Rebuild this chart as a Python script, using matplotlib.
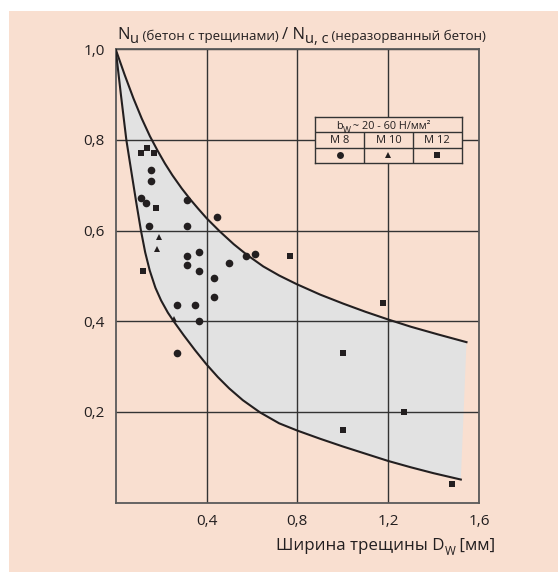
import numpy as np
import matplotlib
matplotlib.use("Agg")
import matplotlib.pyplot as plt
from matplotlib.patches import Rectangle

plt.rcParams['font.family'] = ['Open Sans', 'DejaVu Sans']

# envelope curves
upper_x = [0.0, 0.040, 0.078, 0.115, 0.151, 0.185, 0.217, 0.250, 0.291, 0.330, 0.364, 0.401,
           0.459, 0.520, 0.577, 0.650, 0.720, 0.797, 0.900, 1.002, 1.100, 1.200, 1.300, 1.420, 1.545]
upper_y = [1.0, 0.943, 0.892, 0.847, 0.808, 0.776, 0.748, 0.722, 0.693, 0.668, 0.648, 0.627,
           0.598, 0.570, 0.547, 0.521, 0.501, 0.482, 0.459, 0.439, 0.421, 0.404, 0.388, 0.371, 0.354]
lower_x = [0.0, 0.023, 0.047, 0.070, 0.090, 0.111, 0.130, 0.150, 0.175, 0.200, 0.230, 0.257,
           0.300, 0.350, 0.400, 0.450, 0.500, 0.560, 0.636, 0.720, 0.800, 0.900, 1.000, 1.100,
           1.200, 1.300, 1.400, 1.520]
lower_y = [1.0, 0.900, 0.800, 0.727, 0.664, 0.601, 0.552, 0.512, 0.474, 0.446, 0.419, 0.399,
           0.369, 0.336, 0.305, 0.277, 0.252, 0.226, 0.199, 0.175, 0.159, 0.141, 0.124, 0.108,
           0.092, 0.078, 0.065, 0.051]

# M 8 (circles)
m8_x = [0.155, 0.155, 0.110, 0.135, 0.315, 0.445, 0.145, 0.315, 0.368, 0.315, 0.315,
        0.368, 0.500, 0.574, 0.615, 0.434, 0.434, 0.270, 0.351, 0.368, 0.270]
m8_y = [0.734, 0.710, 0.672, 0.660, 0.668, 0.629, 0.610, 0.610, 0.552, 0.543, 0.524,
        0.512, 0.529, 0.545, 0.549, 0.495, 0.454, 0.435, 0.435, 0.400, 0.330]
# M 10 (triangles)
m10_x = [0.192, 0.180, 0.257]
m10_y = [0.585, 0.560, 0.405]
# M 12 (squares)
m12_x = [0.110, 0.136, 0.170, 0.176, 0.120, 0.769, 1.178, 1.001, 1.001, 1.268, 1.482]
m12_y = [0.771, 0.783, 0.771, 0.650, 0.510, 0.545, 0.440, 0.329, 0.160, 0.200, 0.042]

x_ticks = [0.4, 0.8, 1.2, 1.6]
x_labels = ['0,4', '0,8', '1,2', '1,6']
y_ticks = [0.2, 0.4, 0.6, 0.8, 1.0]
y_labels = ['0,2', '0,4', '0,6', '0,8', '1,0']

legend_cols = ['M 8', 'M 10', 'M 12']
legend_marks = ['o', '^', 's']

peach = '#f9dfd0'
ink = '#231f20'


def chain(owner, pieces, x, y, transform, zorder=10):
    """Write text pieces one after another; each piece is (text, size, dy in pt)."""
    s, size, dy = pieces[0]
    prev = owner.text(x, y, s, fontsize=size, color=ink, va='bottom', ha='left',
                      transform=transform, zorder=zorder)
    prev_dy = dy
    for s, size, dy in pieces[1:]:
        prev = owner.annotate(s, xy=(1, 0), xycoords=prev, xytext=(0, dy - prev_dy),
                              textcoords='offset points', fontsize=size, color=ink,
                              va='bottom', ha='left', annotation_clip=False, zorder=zorder)
        prev_dy = dy
    return prev


fig = plt.figure(figsize=(5.58, 5.72), dpi=100)
fig.patch.set_facecolor('white')
fig.patches.append(Rectangle((9 / 558, 0), 1, 561 / 572, transform=fig.transFigure,
                             facecolor=peach, edgecolor='none', zorder=-10))

ax = fig.add_axes([0.2073, 0.1212, 0.6511, 0.7927])
ax.set_facecolor(peach)

# shaded band between the two curves
ax.fill(upper_x + lower_x[::-1], upper_y + lower_y[::-1], color='#e2e2e2', lw=0, zorder=1)
ax.plot(upper_x, upper_y, color=ink, lw=1.5, zorder=3)
ax.plot(lower_x, lower_y, color=ink, lw=1.5, zorder=3)

ax.plot(m8_x, m8_y, 'o', color=ink, ms=5.5, mew=0, zorder=4)
ax.plot(m10_x, m10_y, '^', color=ink, ms=5, mew=0, zorder=4)
ax.plot(m12_x, m12_y, 's', color=ink, ms=5, mew=0, zorder=4)

ax.set_xlim(0, 1.6)
ax.set_ylim(0, 1.0)
ax.set_xticks(x_ticks, x_labels)
ax.set_yticks(y_ticks, y_labels)
ax.set_axisbelow('line')
ax.grid(True, color='#333333', lw=1.0)
ax.tick_params(length=0, pad=8, labelsize=11, labelcolor=ink)
for sp in ax.spines.values():
    sp.set_color('#5a5a5a')
    sp.set_linewidth(1.3)

# title above the plot
chain(ax, [('N', 12, 0), ('u', 10.5, -2.8), (' (бетон с трещинами) ', 9.6, 0),
           ('/ N', 12, 0), ('u, c', 10.5, -2.8), (' (неразорванный бетон)', 9.6, 0)],
      0.2097, 0.925, fig.transFigure)

# x axis caption
chain(ax, [('Ширина трещины D', 12.2, 0), ('W', 8.5, -3), (' [мм]', 12.2, 0)],
      0.4946, 0.031, fig.transFigure)

# small legend table
tax = fig.add_axes([0.565, 0.7156, 0.2624, 0.0794])
tax.set_facecolor(peach)
tax.set_xlim(0, 3)
tax.set_ylim(0, 3)
tax.set_xticks([])
tax.set_yticks([])
for sp in tax.spines.values():
    sp.set_color('#333333')
    sp.set_linewidth(1.0)
tax.hlines([1, 2], 0, 3, color='#333333', lw=1.0)
tax.vlines([1, 2], 0, 2, color='#333333', lw=1.0)
for i, (lab, mk) in enumerate(zip(legend_cols, legend_marks)):
    tax.text(i + 0.5, 1.45, lab, fontsize=8, color=ink, ha='center', va='center')
    tax.plot(i + 0.5, 0.5, mk, color=ink, ms=5, mew=0)
chain(tax, [('b', 7.8, 0), ('W', 6.2, -2.2), (' ~ 20 - 60 Н/мм²', 7.8, 0)],
      0.42, 2.05, tax.transData, zorder=12)

fig.savefig('out.png', dpi=100)
